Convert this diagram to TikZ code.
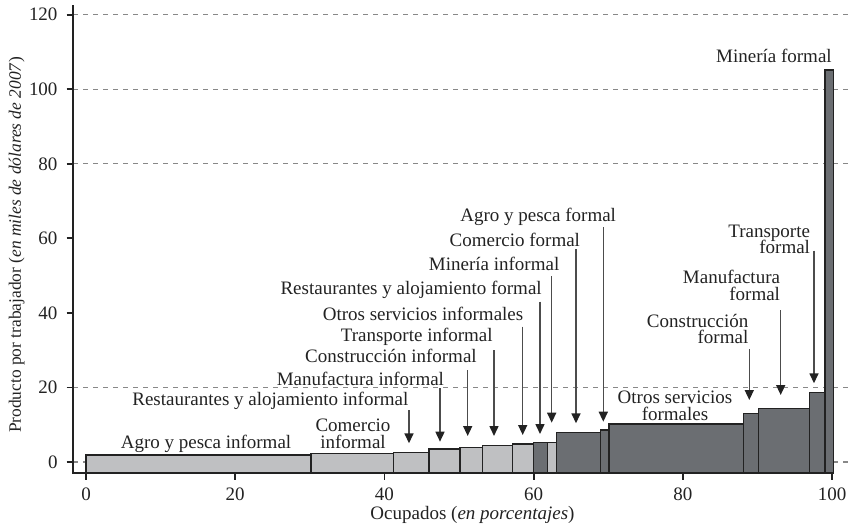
\documentclass[tikz,border=0pt]{standalone}
\usepackage{fontspec}
\setmainfont{Liberation Serif}
\usetikzlibrary{arrows.meta}
\definecolor{lightbar}{HTML}{BFC0C2}
\definecolor{darkbar}{HTML}{6B6E72}
\definecolor{ink}{HTML}{222222}
\definecolor{gridc}{HTML}{888888}
\definecolor{arrc}{HTML}{4C4C4C}
\begin{document}
\begin{tikzpicture}[x=0.5pt,y=-0.5pt,
  every node/.style={inner sep=0pt,outer sep=0pt,text=ink},
  lab/.style={font=\fontsize{9.5}{11}\selectfont},
  labm/.style={font={\fontsize{9.5}{#1}\selectfont\lineskiplimit=-20pt}},
  barL/.style={fill=lightbar,draw=ink,line width=0.6pt},
  barD/.style={fill=darkbar,draw=ink,line width=0.6pt},
  gridline/.style={gridc,line width=0.6pt,dash pattern=on 2.5pt off 2.5pt},
  axisline/.style={ink,line width=0.9pt},
  ptr/.style={arrc,line width=0.75pt,-{Triangle[width=4.5pt,length=5pt,color=ink]}}]
\useasboundingbox (0,0) rectangle (848,526);

% grid
\foreach \yy in {14.7,89.3,163.8,387.4,462} \draw[gridline] (73,\yy) -- (848,\yy);

% bars
\foreach \a/\b/\t/\s in {86/311/455/barL, 311/393.3/453.3/barL, 393.3/429/452.3/barL,
  429/460/449/barL, 460/482.7/447.3/barL, 482.7/512.3/445.3/barL, 512.3/533.3/444/barL,
  533.3/547.3/442.7/barD, 547.3/556.7/442.7/barL, 556.7/600.7/432.7/barD,
  600.7/609/430/barD, 609/743.3/424/barD, 743.3/758.3/413.3/barD,
  758.3/809.3/408.3/barD, 809.3/825/392.3/barD, 825/833.3/70/barD}
  \draw[\s] (\a,473) rectangle (\b,\t);

% axes
\draw[axisline] (73,5) -- (73,473) -- (834,473);
\foreach \v in {0,20,...,120} {
  \pgfmathsetmacro{\yy}{462-3.7275*\v}
  \draw[axisline] (66.5,\yy) -- (73,\yy);
  \node[lab,anchor=east] (yt\v) at (57.5,\yy) {\v};
}
\foreach \v in {0,20,...,100} {
  \pgfmathsetmacro{\xx}{86+7.46*\v}
  \draw[axisline] (\xx,473) -- (\xx,479.5);
  \node[lab,anchor=base] (xt\v) at (\xx,500) {\v};
}
\node[lab,anchor=base] (xlab) at (472.5,519) {Ocupados (\textit{en porcentajes})};
\node[font=\fontsize{8.7}{10}\selectfont,rotate=90] (ylab) at (16.7,245)
  {Producto por trabajador (\textit{en miles de dólares de 2007})};

% labels
\node[lab,anchor=base] (l1) at (206,448) {Agro y pesca informal};
\node[labm=8.5,align=center,anchor=south] (l2) at (353,448.3) {Comercio\\informal};
\node[lab,anchor=base east] (l3) at (408.3,405.3) {Restaurantes y alojamiento informal};
\node[lab,anchor=base east] (l4) at (444,385.7) {Manufactura informal};
\node[lab,anchor=base east] (l5) at (476.7,362.3) {Construcción informal};
\node[lab,anchor=base east] (l6) at (492.7,341.5) {Transporte informal};
\node[lab,anchor=base east] (l7) at (523.3,320.7) {Otros servicios informales};
\node[lab,anchor=base east] (l8) at (541.7,294) {Restaurantes y alojamiento formal};
\node[lab,anchor=base east] (l9) at (559.3,270.7) {Minería informal};
\node[lab,anchor=base east] (l10) at (580,246) {Comercio formal};
\node[lab,anchor=base east] (l11) at (616,221.7) {Agro y pesca formal};
\node[labm=8.5,align=center,anchor=south] (l12) at (675,420.7) {Otros servicios\\formales};
\node[labm=8.2,align=right,anchor=south east] (l13) at (748.3,344) {Construcción\\formal};
\node[labm=8.3,align=right,anchor=south east] (l14) at (780,300.7) {Manufactura\\formal};
\node[labm=8.25,align=right,anchor=south east] (l15) at (810,254) {Transporte\\formal};
\node[lab,anchor=base east] (l16) at (831.7,62.7) {Minería formal};

% pointers
\foreach \n/\x/\ya/\yb in {3/409/410/443.3, 4/440/388/441.7, 5/467.7/370/436,
  6/494/350/436, 7/522.7/326.7/435, 8/540/301.7/434, 9/551.7/276/422.7,
  10/576/249.3/423.3, 11/603.3/227.3/421.7, 13/749.3/349.3/400,
  14/780.7/310/395, 15/814/250.7/383.3} {
  \coordinate (s\n) at (\x,\ya);
  \coordinate (e\n) at (\x,\yb);
  \draw[ptr] (s\n) -- (e\n);
}
\end{tikzpicture}
\end{document}
